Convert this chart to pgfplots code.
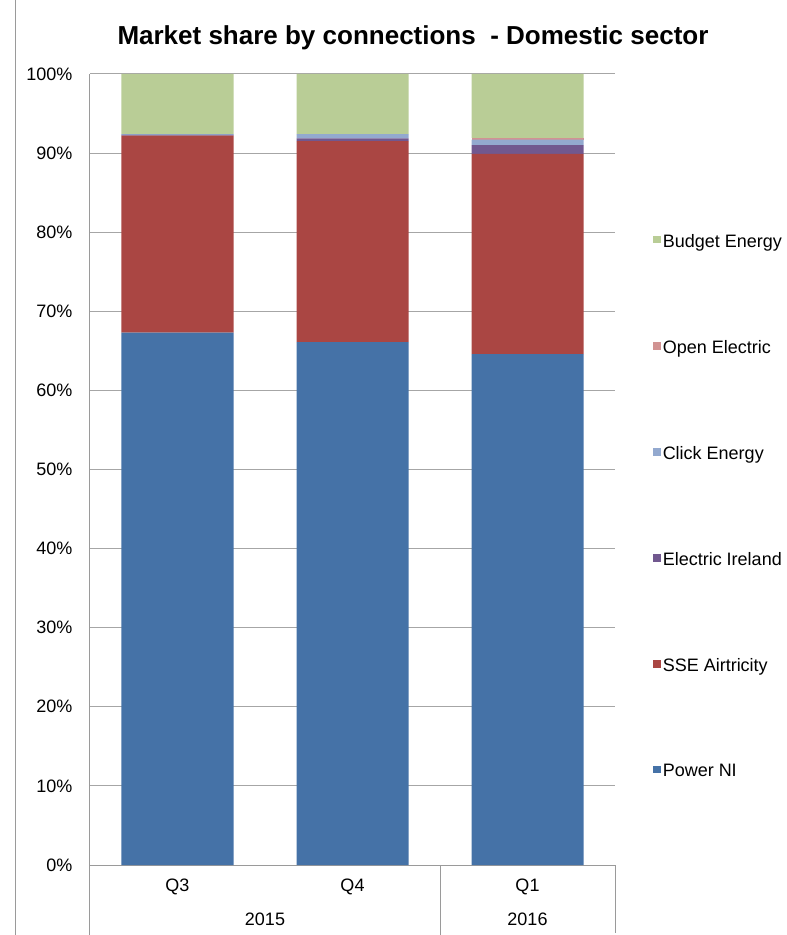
\documentclass[border=0pt]{standalone}
\usepackage{fontspec}
\setmainfont{Liberation Sans}
\usepackage{pgfplots}
\pgfplotsset{compat=1.18}

\definecolor{powerni}{HTML}{4572A7}
\definecolor{sse}{HTML}{AA4643}
\definecolor{elecirl}{HTML}{71588F}
\definecolor{click}{HTML}{93A9CF}
\definecolor{openel}{HTML}{D19392}
\definecolor{budget}{HTML}{B9CD96}
\definecolor{axgray}{HTML}{9A9A9A}
\definecolor{gridgray}{HTML}{A6A6A6}

\newcommand{\tickfont}{\fontsize{13.5}{16}\selectfont}

\begin{document}
\begin{tikzpicture}
\begin{axis}[
    at={(0pt,0pt)}, anchor=south west,
    scale only axis, width=393.75pt, height=593.25pt,
    ybar stacked, bar width=84pt,
    xmin=-0.5, xmax=2.5, ymin=0, ymax=100,
    xtick={0,1,2}, xticklabels={Q3,Q4,Q1},
    ytick={0,10,...,100},
    yticklabel={\pgfmathprintnumber{\tick}\%},
    /pgf/number format/assume math mode=true,
    axis x line*=bottom, axis y line*=left,
    axis line style={draw=axgray, line width=0.75pt, -},
    major tick length=0pt,
    ymajorgrids, grid style={draw=gridgray, line width=0.75pt},
    tick label style={font=\tickfont, text=black, inner sep=0pt},
    xticklabel style={anchor=center, yshift=-16.5pt},
    yticklabel style={anchor=east, xshift=-13pt},
    clip=false,
    reverse legend,
    legend cell align=left,
    legend style={at={(rel axis cs:1.0724,0.4532)}, anchor=west,
        draw=none, fill=none, inner sep=0pt, row sep=68.25pt,
        font=\tickfont, nodes={inner xsep=1.5pt, inner ysep=0pt}},
    legend image code/.code={\fill[#1] (0pt,-1.3pt) rectangle (5.6pt,4.3pt);},
]
% Q3 2015, Q4 2015, Q1 2016 (percent of connections)
\addplot[fill=powerni, draw=none] coordinates {(0,67.3) (1,66.1) (2,64.6)};
\addplot[fill=sse, draw=none] coordinates {(0,24.9) (1,25.4) (2,25.3)};
\addplot[fill=elecirl, draw=none] coordinates {(0,0.1) (1,0.35) (2,1.1)};
\addplot[fill=click, draw=none] coordinates {(0,0.1) (1,0.55) (2,0.7)};
\addplot[fill=openel, draw=none] coordinates {(0,0.0) (1,0.0) (2,0.2)};
\addplot[fill=budget, draw=none] coordinates {(0,7.6) (1,7.6) (2,8.1)};
\legend{Power NI, SSE Airtricity, Electric Ireland, Click Energy, Open Electric, Budget Energy}

% category box below the axis
\draw[axgray, line width=0.75pt] (axis cs:-0.5,0) -- ++(0pt,-52.5pt);
\draw[axgray, line width=0.75pt] (axis cs:1.5,0) -- ++(0pt,-52.5pt);
\draw[axgray, line width=0.75pt] (axis cs:2.5,0) -- ++(0pt,-51pt);
\node[font=\tickfont] at ([yshift=-41pt]axis cs:0.5,0) {2015};
\node[font=\tickfont] at ([yshift=-41pt]axis cs:2,0) {2016};
\end{axis}

\node[font=\fontsize{19.5}{23}\selectfont\bfseries] at (242.25pt,620.25pt)
    {Market share by connections\ \ - Domestic sector};
\draw[axgray, line width=0.75pt] (-55.5pt,-52.5pt) -- (-55.5pt,648.75pt);

\pgfresetboundingbox
\useasboundingbox (-67.5pt,-52.5pt) rectangle (522.75pt,648.75pt);
\end{tikzpicture}
\end{document}
